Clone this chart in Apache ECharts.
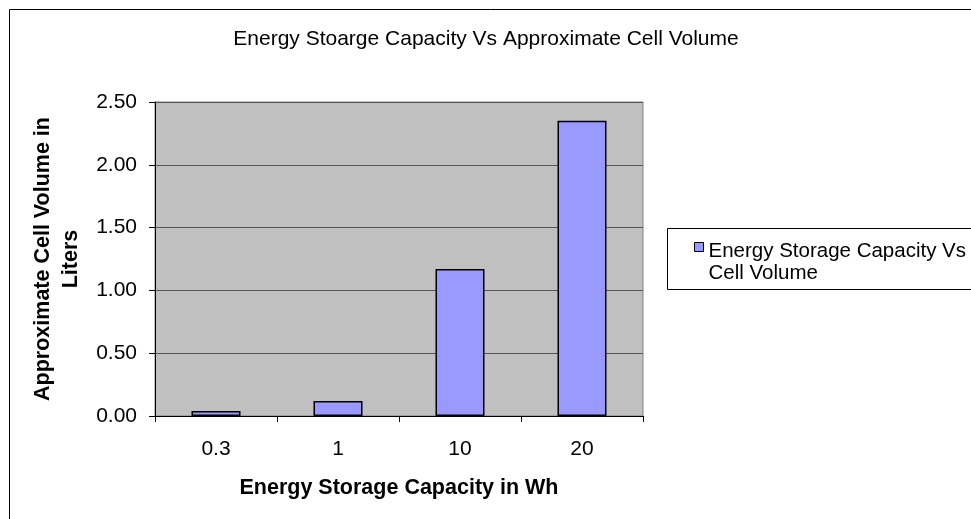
<!DOCTYPE html>
<html><head><meta charset="utf-8">
<script src="https://cdn.jsdelivr.net/npm/echarts@6/dist/echarts.min.js"></script>
<style>html,body{margin:0;padding:0;background:#fff}#c{width:971px;height:519px}</style>
</head><body><div id="c"></div>
<script>
const categories = ['0.3', '1', '10', '20'];
const volumes = [0.04, 0.12, 1.17, 2.35];
const yTicks = [0, 0.5, 1, 1.5, 2, 2.5];
const seriesName = 'Energy Storage Capacity Vs\nCell Volume';
const titleText = 'Energy Stoarge Capacity Vs Approximate Cell Volume';
const xName = 'Energy Storage Capacity in Wh';
const yName = 'Approximate Cell Volume in\nLiters';

const chart = echarts.init(document.getElementById('c'), null, {renderer: 'canvas'});
const font = 'Liberation Sans, Arial, sans-serif';
chart.setOption({
  animation: false,
  backgroundColor: '#fff',
  textStyle: {fontFamily: font},
  title: {
    text: titleText, left: 481, top: 24, textAlign: 'center',
    textStyle: {fontFamily: font, fontSize: 21, fontWeight: 'normal', color: '#000'}
  },
  graphic: [
    {type: 'rect', shape: {x: 9.5, y: 9.5, width: 1000, height: 600}, style: {fill: 'none', stroke: '#000', lineWidth: 1}, z: 100},
    {type: 'rect', shape: {x: 667.5, y: 228.5, width: 400, height: 61}, style: {fill: '#fff', stroke: '#000', lineWidth: 1}, z: 0}
  ],
  legend: {
    left: 694, top: 210, padding: 0, orient: 'vertical',
    itemWidth: 9, itemHeight: 9, itemGap: 4,
    icon: 'rect',
    formatter: name => '{b| }\n' + name.split('\n').map(s => '{a|' + s + '}').join('\n'),
    textStyle: {
      fontFamily: font, fontSize: 20.5, color: '#000',
      rich: {
        a: {fontFamily: font, fontSize: 20.5, color: '#000', lineHeight: 22},
        b: {fontSize: 10, lineHeight: 30, height: 30}
      }
    },
    data: [{name: seriesName, itemStyle: {borderColor: '#000', borderWidth: 1}}]
  },
  grid: {
    left: 155, top: 102, width: 488, height: 314, show: true, containLabel: false, outerBoundsMode: 'none',
    backgroundColor: '#C0C0C0', borderColor: '#808080', borderWidth: 1
  },
  xAxis: {
    type: 'category', data: categories,
    name: xName, nameLocation: 'middle', nameGap: 61,
    nameTextStyle: {fontFamily: font, fontSize: 21.5, fontWeight: 'bold', color: '#000'},
    axisLine: {lineStyle: {color: '#000', width: 1}},
    axisTick: {show: true, alignWithLabel: false, inside: false, length: 6, lineStyle: {color: '#000'}},
    axisLabel: {fontFamily: font, fontSize: 21, color: '#000', margin: 23},
    splitLine: {show: false}
  },
  yAxis: {
    type: 'value', min: 0, max: 2.5, interval: 0.5,
    name: yName, nameLocation: 'middle', nameGap: 65, nameRotate: 90,
    nameTextStyle: {fontFamily: font, fontSize: 21.5, fontWeight: 'bold', color: '#000', lineHeight: 28, align: 'center'},
    axisLine: {show: true, lineStyle: {color: '#000', width: 1}},
    axisTick: {show: true, inside: false, length: 6, lineStyle: {color: '#000'}},
    axisLabel: {fontFamily: font, fontSize: 21, color: '#000', margin: 18,
      formatter: v => yTicks.includes(v) ? v.toFixed(2) : ''},
    splitLine: {show: true, lineStyle: {color: '#555', width: 1}}
  },
  series: [{
    name: seriesName, type: 'bar', data: volumes, barWidth: 49,
    itemStyle: {color: '#9999FF', borderColor: '#000', borderWidth: 1.5}
  }]
});
</script></body></html>
